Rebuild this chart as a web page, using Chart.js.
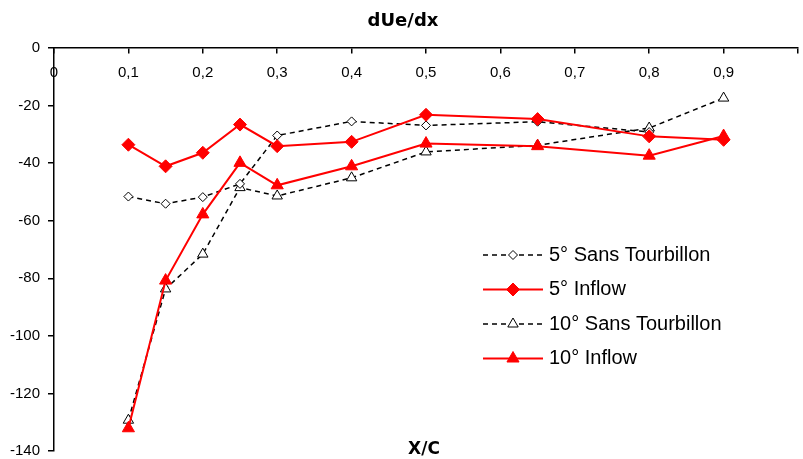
<!DOCTYPE html>
<html>
<head>
<meta charset="utf-8">
<script src="https://cdn.jsdelivr.net/npm/chart.js@4/dist/chart.umd.min.js"></script>
<style>
html, body { margin: 0; padding: 0; overflow: hidden; background: #fff; }
#wrap { width: 806px; height: 459px; }
</style>
</head>
<body>
<div id="wrap"><canvas id="myChart"></canvas></div>
<script>
// data
var xPos = [0.1, 0.15, 0.2, 0.25, 0.3, 0.4, 0.5, 0.65, 0.8, 0.9];
var sans5 = [-51.6, -54.1, -51.8, -47.2, -30.4, -25.5, -26.9, -25.6, -29.2, null];
var inflow5 = [-33.6, -41.1, -36.4, -26.6, -34.1, -32.6, -23.2, -24.7, -30.7, -31.9];
var sans10 = [-129.3, -83.7, -71.6, -48.5, -51.4, -45.1, -36.1, -33.8, -27.8, -17.4];
var inflow10 = [-132.1, -80.8, -57.8, -39.9, -47.7, -41.1, -33.2, -34.1, -37.4, -30.6];
var names = ["5° Sans Tourbillon", "5° Inflow", "10° Sans Tourbillon", "10° Inflow"];
var yMin = -140, yMax = 0, yStep = 20;
var xMin = 0, xMax = 1, xStep = 0.1;

function pts(arr) {
    return xPos.map(function (x, i) { return { x: x, y: arr[i] }; });
}

Chart.defaults.font.family = "'Liberation Sans', Arial, sans-serif";
Chart.defaults.color = "#000";

// legend inside the plot + X/C caption
var extras = {
    id: "extras",
    afterDatasetsDraw: function (chart) {
        var ctx = chart.ctx;
        var x0 = 483, y0 = 255, step = 34.5;
        chart.data.datasets.forEach(function (ds, i) {
            var y = y0 + i * step;
            ctx.save();
            ctx.strokeStyle = ds.borderColor;
            ctx.lineWidth = ds.borderWidth;
            ctx.setLineDash(ds.borderDash || []);
            ctx.beginPath();
            ctx.moveTo(x0, y);
            ctx.lineTo(x0 + 60, y);
            ctx.stroke();
            ctx.setLineDash([]);
            ctx.fillStyle = ds.pointBackgroundColor;
            ctx.strokeStyle = ds.pointBorderColor;
            ctx.lineWidth = 1;
            Chart.helpers.drawPoint(ctx, { pointStyle: ds.pointStyle, radius: ds.pointRadius, borderWidth: 1, rotation: 0 }, x0 + 30, y);
            ctx.fillStyle = "#000";
            ctx.font = "20px 'Liberation Sans'";
            ctx.textBaseline = "middle";
            ctx.textAlign = "left";
            ctx.fillText(ds.label, x0 + 66, y);
            ctx.restore();
        });
        var a = chart.chartArea;
        ctx.save();
        ctx.fillStyle = "#000";
        ctx.font = "bold 17px 'DejaVu Sans'";
        ctx.textAlign = "center";
        ctx.textBaseline = "middle";
        ctx.fillText("X/C", (a.left + a.right) / 2 - 2, 450);
        ctx.restore();
    }
};

var myChart = document.getElementById("myChart").getContext("2d");

var chart = new Chart(myChart, {
    type: "line",
    data: {
        datasets: [
            {
                label: names[0],
                data: pts(sans5),
                borderColor: "#000",
                borderWidth: 1.5,
                borderDash: [5, 4],
                pointStyle: "rectRot",
                pointRadius: 4.5,
                pointBackgroundColor: "#fff",
                pointBorderColor: "#000",
                pointBorderWidth: 1,
                order: 1
            },
            {
                label: names[1],
                data: pts(inflow5),
                borderColor: "#ff0000",
                borderWidth: 2,
                pointStyle: "rectRot",
                pointRadius: 6.5,
                pointBackgroundColor: "#ff0000",
                pointBorderColor: "#ff0000",
                pointBorderWidth: 1,
                order: 0
            },
            {
                label: names[2],
                data: pts(sans10),
                borderColor: "#000",
                borderWidth: 1.5,
                borderDash: [5, 4],
                pointStyle: "triangle",
                pointRadius: 6,
                pointBackgroundColor: "#fff",
                pointBorderColor: "#000",
                pointBorderWidth: 1,
                order: 1
            },
            {
                label: names[3],
                data: pts(inflow10),
                borderColor: "#ff0000",
                borderWidth: 2,
                pointStyle: "triangle",
                pointRadius: 7,
                pointBackgroundColor: "#ff0000",
                pointBorderColor: "#ff0000",
                pointBorderWidth: 1,
                order: 0
            }
        ]
    },
    options: {
        responsive: true,
        maintainAspectRatio: false,
        animation: false,
        layout: { padding: { left: 0, right: 0, top: 0, bottom: 6 } },
        elements: { line: { tension: 0 } },
        plugins: {
            legend: { display: false },
            tooltip: { enabled: false },
            title: {
                display: true,
                text: "dUe/dx",
                color: "#000",
                font: { family: "'DejaVu Sans'", size: 18, weight: "bold" },
                padding: { top: 11, bottom: 15.4 }
            }
        },
        scales: {
            x: {
                type: "linear",
                position: { y: 0 },
                min: xMin,
                max: xMax,
                border: { color: "#000", width: 1.5 },
                grid: { drawOnChartArea: false, drawTicks: true, tickLength: 5, color: "#000", lineWidth: 1.5 },
                ticks: {
                    stepSize: xStep,
                    padding: 11,
                    maxRotation: 0,
                    autoSkip: false,
                    font: { size: 15 },
                    callback: function (v) {
                        if (v >= 1) return "";
                        if (v === 0) return "0";
                        return v.toFixed(1).replace(".", ",");
                    }
                },
                afterFit: function (s) { s.height = 0; s.paddingLeft = 0; s.paddingRight = 0; }
            },
            y: {
                position: "left",
                min: yMin,
                max: yMax,
                border: { color: "#000", width: 1.5 },
                grid: { drawOnChartArea: false, drawTicks: true, tickLength: 6, color: "#000", lineWidth: 1.5 },
                ticks: { stepSize: yStep, padding: 8, font: { size: 15 } },
                afterFit: function (s) { s.width = 54; s.paddingTop = 0; s.paddingBottom = 0; }
            }
        }
    },
    plugins: [extras]
});
</script>
</body>
</html>
